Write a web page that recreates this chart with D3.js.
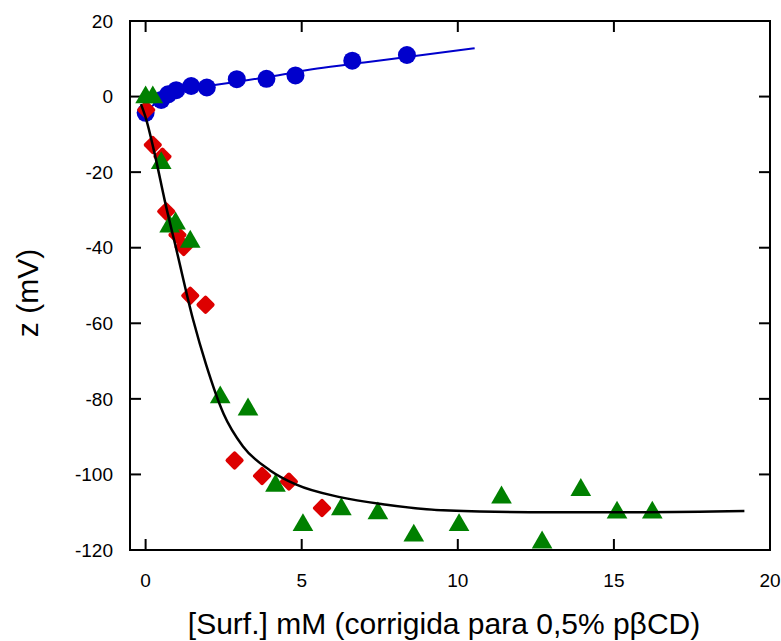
<!DOCTYPE html>
<html>
<head>
<meta charset="utf-8">
<script src="https://cdn.jsdelivr.net/npm/d3@7"></script>
<style>
  body { margin: 0; background: #fff; }
  text { font-family: "Liberation Sans", Arial, sans-serif; fill: #000; }
</style>
</head>
<body>
<svg width="781" height="641"></svg>
<script>
// series: [surfactant mM, zeta mV]
const bluePoints = [[0.0, -4.3], [0.5, -0.9], [0.72, 0.6], [0.98, 1.7], [1.46, 2.8], [1.96, 2.4],
    [2.92, 4.6], [3.87, 4.7], [4.8, 5.6], [6.62, 9.5], [8.37, 11.0]];
const blueFit = [[0.0, -4.2], [0.25, -2.2], [0.5, -0.6], [0.75, 0.5], [1.0, 1.3], [1.5, 2.2], [2.0, 2.8],
    [3.0, 4.0], [4.0, 5.3], [5.5, 7.4], [7.0, 9.0], [8.5, 10.6], [10.54, 12.8]];
const redPoints = [[0.02, -3.5], [0.23, -12.8], [0.54, -15.9], [0.66, -30.4], [1.02, -36.6], [1.22, -39.8],
    [1.43, -52.7], [1.92, -55.1], [2.85, -96.3], [3.73, -100.4], [4.59, -101.9], [5.65, -108.9]];
const greenPoints = [[0.0, -0.2], [0.23, -0.2], [0.5, -17.6], [0.77, -34.4], [0.96, -33.6], [1.43, -38.4],
    [2.39, -79.6], [3.28, -82.8], [4.16, -103.0], [5.04, -113.4], [6.27, -109.2], [7.44, -110.3],
    [8.59, -116.2], [10.04, -113.4], [11.4, -106.1], [12.7, -118.0], [13.94, -104.1], [15.1, -110.1], [16.23, -110.1]];
const blackFit = [[-0.15, -2], [0.0, -5.5], [0.3, -15.5], [0.61, -27.4], [1.0, -41], [1.52, -59], [1.94, -71],
    [2.5, -84], [3.12, -92.6], [4.0, -99], [4.83, -102.7], [6.22, -106.0], [7.72, -108.0], [9.0, -109.2],
    [10.7, -109.8], [13.0, -110.0], [16.0, -110.0], [19.18, -109.7]];
const xTicks = [0, 5, 10, 15, 20];
const yTicks = [20, 0, -20, -40, -60, -80, -100, -120];

const svg = d3.select("svg");
const mLeft = 130, mRight = 770, mTop = 21, mBottom = 550;

const x = d3.scaleLinear().domain([-0.5, 20]).range([mLeft, mRight]);
const y = d3.scaleLinear().domain([-120, 20]).range([mBottom, mTop]);

// frame
svg.append("rect")
    .attr("x", mLeft).attr("y", mTop)
    .attr("width", mRight - mLeft).attr("height", mBottom - mTop)
    .attr("fill", "none").attr("stroke", "#000").attr("stroke-width", 2);

// inward ticks on all four sides
const tickLen = 11;
const tk = svg.append("g").attr("stroke", "#000").attr("stroke-width", 2);
xTicks.forEach(t => {
    tk.append("line").attr("x1", x(t)).attr("x2", x(t)).attr("y1", mBottom).attr("y2", mBottom - tickLen);
    tk.append("line").attr("x1", x(t)).attr("x2", x(t)).attr("y1", mTop).attr("y2", mTop + tickLen);
});
yTicks.forEach(t => {
    tk.append("line").attr("x1", mLeft).attr("x2", mLeft + tickLen).attr("y1", y(t)).attr("y2", y(t));
    tk.append("line").attr("x1", mRight).attr("x2", mRight - tickLen).attr("y1", y(t)).attr("y2", y(t));
});

svg.append("g").selectAll("text").data(xTicks).enter().append("text")
    .attr("x", d => x(d)).attr("y", 587)
    .attr("text-anchor", "middle").attr("font-size", 19)
    .text(d => d);

svg.append("g").selectAll("text").data(yTicks).enter().append("text")
    .attr("x", 113).attr("y", d => y(d)).attr("dy", "0.35em")
    .attr("text-anchor", "end").attr("font-size", 19)
    .text(d => d);

svg.append("text")
    .attr("x", 444).attr("y", 634)
    .attr("text-anchor", "middle").attr("font-size", 30)
    .text("[Surf.] mM (corrigida para 0,5% p\u03B2CD)");

svg.append("text")
    .attr("transform", "translate(38,293) rotate(-90)")
    .attr("text-anchor", "middle").attr("font-size", 30)
    .text("z (mV)");

const line = d3.line().x(d => x(d[0])).y(d => y(d[1])).curve(d3.curveMonotoneX);

svg.append("path").datum(blueFit)
    .attr("d", line).attr("fill", "none").attr("stroke", "#0000cc").attr("stroke-width", 2);

svg.append("g").selectAll("circle").data(bluePoints).enter().append("circle")
    .attr("cx", d => x(d[0])).attr("cy", d => y(d[1])).attr("r", 9)
    .attr("fill", "#0000cc");

svg.append("g").selectAll("rect").data(redPoints).enter().append("rect")
    .attr("x", -7).attr("y", -7).attr("width", 14).attr("height", 14).attr("rx", 2)
    .attr("transform", d => `translate(${x(d[0])},${y(d[1])}) rotate(45)`)
    .attr("fill", "#dd0000");

const tri = d3.symbol().type(d3.symbolTriangle).size(185);
svg.append("g").selectAll("path").data(greenPoints).enter().append("path")
    .attr("d", tri)
    .attr("transform", d => `translate(${x(d[0])},${y(d[1])})`)
    .attr("fill", "#008000");

svg.append("path").datum(blackFit)
    .attr("d", line).attr("fill", "none").attr("stroke", "#000").attr("stroke-width", 2.5);
</script>
</body>
</html>
